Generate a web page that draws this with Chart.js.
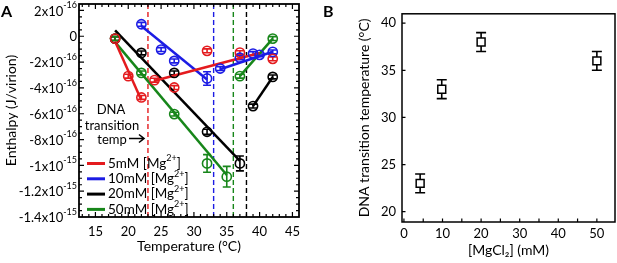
<!DOCTYPE html>
<html>
<head>
<meta charset="utf-8">
<script src="https://cdn.jsdelivr.net/npm/chart.js@4.4.1/dist/chart.umd.min.js"></script>
<style>
  html, body { margin: 0; padding: 0; background: #fff; }
  #wrap { position: relative; width: 617px; height: 263px; overflow: hidden; }
  canvas { position: absolute; top: 0; }
  #chartA { left: 0; }
  #chartB { left: 308px; }
</style>
</head>
<body>
<div id="wrap">
  <canvas id="chartA" width="308" height="263"></canvas>
  <canvas id="chartB" width="309" height="263"></canvas>
</div>
<script>
// ── Panel A data: enthalpy in units of 1e-16 J/virion ───────
const temps5  = [18, 20, 22, 24, 27, 32, 37, 42];
const enth5   = [-0.18, -3.09, -4.74, -3.40, -3.97, -1.13, -1.27, -1.75];
const err5    = [0.15, 0.15, 0.15, 0.15, 0.15, 0.15, 0.15, 0.15];

const temps10 = [22, 25, 27, 32, 34, 37, 39, 40, 42];
const enth10  = [0.93, -1.03, -1.91, -3.27, -2.50, -1.66, -1.34, -1.44, -1.21];
const err10   = [0.15, 0.15, 0.15, 0.52, 0.15, 0.15, 0.15, 0.15, 0.15];

const temps20 = [18, 22, 27, 32, 37, 39, 42];
const enth20  = [-0.18, -1.29, -2.84, -7.40, -9.85, -5.41, -3.15];
const err20   = [0.15, 0.15, 0.15, 0.2, 0.58, 0.15, 0.15];

const temps50 = [18, 22, 27, 32, 35, 37, 42];
const enth50  = [-0.18, -2.84, -6.03, -9.85, -10.88, -3.09, -0.18];
const err50   = [0.15, 0.15, 0.15, 0.68, 0.8, 0.15, 0.15];

// linear fit segments: [x0, x1, y0, y1]
const fit5  = [[18, 22, -0.4, -4.95], [24, 40, -3.45, -1.3]];
const fit10 = [[22, 32, 0.8, -3.35], [34, 42, -2.55, -1.2]];
const fit20 = [[18, 37, 0.45, -9.65], [39, 42, -5.41, -3.15]];
const fit50 = [[18, 35, -0.45, -10.75], [37, 42, -3.09, -0.18]];

const seriesNames  = ['5mM', '10mM', '20mM', '50mM'];
const seriesColors = ['#e41b1e', '#1c1ce4', '#000000', '#17861a'];
const transitionTemps = [23, 33, 38, 36];

const xTicksA = [15, 20, 25, 30, 35, 40, 45];
const yTicksA = [2, 0, -2, -4, -6, -8, -10, -12, -14];
const yTickLabelsA = [
  ['2x10', '-16'], ['0', ''], ['-2x10', '-16'], ['-4x10', '-16'], ['-6x10', '-16'],
  ['-8x10', '-16'], ['-1x10', '-15'], ['-1.2x10', '-15'], ['-1.4x10', '-15']
];

// ── Panel B data ────────────────────────────────────────────
const mgConc    = [4.2, 9.8, 20, 50];
const transTemp = [23, 33, 38, 36];
const transErr  = [1, 1, 1, 1];
const xTicksB = [0, 10, 20, 30, 40, 50];
const yTicksB = [20, 25, 30, 35, 40];

const FONT = 'Lato, "Open Sans", sans-serif';

const pts = (xs, ys) => xs.map((x, i) => ({ x, y: ys[i] }));
const setTicks = vals => scale => { scale.ticks = vals.map(v => ({ value: v })); };

// ── Error bars (drawn under the markers) ────────────────────
const errorBars = {
  id: 'errorBars',
  beforeDatasetsDraw(chart) {
    const { ctx } = chart;
    const ys = chart.scales.y;
    chart.data.datasets.forEach((ds, i) => {
      if (!ds.errors) return;
      const meta = chart.getDatasetMeta(i);
      const w = ds.capWidth / 2;
      ctx.save();
      ctx.strokeStyle = ds.borderColor;
      ctx.lineWidth = 1.6;
      ctx.beginPath();
      meta.data.forEach((pt, j) => {
        const v = ds.data[j].y, e = ds.errors[j];
        const top = ys.getPixelForValue(v + e);
        const bot = ys.getPixelForValue(v - e);
        ctx.moveTo(pt.x, top); ctx.lineTo(pt.x, bot);
        ctx.moveTo(pt.x - w, top); ctx.lineTo(pt.x + w, top);
        ctx.moveTo(pt.x - w, bot); ctx.lineTo(pt.x + w, bot);
      });
      ctx.stroke();
      ctx.restore();
    });
  }
};

// ── Frame and inward tick marks ─────────────────────────────
function drawFrame(chart, o) {
  const { ctx, chartArea: a, scales: { x, y } } = chart;
  ctx.save();
  ctx.strokeStyle = '#000';
  ctx.lineWidth = o.frameWidth;
  ctx.strokeRect(a.left, a.top, a.right - a.left, a.bottom - a.top);
  ctx.lineWidth = 1.2;
  ctx.beginPath();
  for (let v = o.xFrom; v <= o.xTo + 1e-9; v += o.xMinor) {
    const px = x.getPixelForValue(v);
    if (px <= a.left + 1 || px >= a.right - 1) continue;
    const len = Math.abs(v / o.xMajor - Math.round(v / o.xMajor)) < 1e-6 ? o.majorLen : o.minorLen;
    ctx.moveTo(px, a.bottom); ctx.lineTo(px, a.bottom - len);
    if (o.mirror) { ctx.moveTo(px, a.top); ctx.lineTo(px, a.top + len); }
  }
  for (let v = o.yFrom; v <= o.yTo + 1e-9; v += o.yMinor) {
    const py = y.getPixelForValue(v);
    if (py <= a.top + 1 || py >= a.bottom - 1) continue;
    const len = Math.abs(v / o.yMajor - Math.round(v / o.yMajor)) < 1e-6 ? o.majorLen : o.minorLen;
    ctx.moveTo(a.left, py); ctx.lineTo(a.left + len, py);
    if (o.mirror) { ctx.moveTo(a.right, py); ctx.lineTo(a.right - len, py); }
  }
  ctx.stroke();
  ctx.restore();
}

function textWithScript(ctx, x, y, base, script, size, raise, align) {
  ctx.font = size + 'px ' + FONT;
  const bw = ctx.measureText(base).width;
  ctx.font = Math.round(size * 0.68) + 'px ' + FONT;
  const sw = script ? ctx.measureText(script).width : 0;
  let left = align === 'right' ? x - bw - sw : x;
  ctx.textAlign = 'left';
  ctx.font = size + 'px ' + FONT;
  ctx.fillText(base, left, y);
  if (script) {
    ctx.font = Math.round(size * 0.68) + 'px ' + FONT;
    ctx.fillText(script, left + bw, y + raise);
  }
  return left + bw + sw;
}

const decorA = {
  id: 'decorA',
  afterDraw(chart) {
    const { ctx, scales: { y } } = chart;
    drawFrame(chart, {
      frameWidth: 1.8, mirror: true, majorLen: 5, minorLen: 3,
      xFrom: 13, xTo: 46, xMinor: 1, xMajor: 5,
      yFrom: -14, yTo: 2.5, yMinor: 0.5, yMajor: 2
    });
    ctx.save();
    ctx.fillStyle = '#000';
    ctx.textBaseline = 'middle';
    // y tick labels with exponents
    yTicksA.forEach((v, i) => {
      const py = y.getPixelForValue(v);
      const [base, exp] = yTickLabelsA[i];
      textWithScript(ctx, 77, py + 1, base, exp, 13, -6, 'right');
    });
    // legend
    seriesNames.forEach((name, i) => {
      const ly = 163.5 + i * 15.3;
      ctx.strokeStyle = seriesColors[i];
      ctx.lineWidth = 3;
      ctx.beginPath(); ctx.moveTo(87, ly); ctx.lineTo(105, ly); ctx.stroke();
      let xx = textWithScript(ctx, 108, ly, name + ' [Mg', '2+', 13.5, -5, 'left');
      ctx.font = '13.5px ' + FONT;
      ctx.fillText(']', xx, ly);
    });
    // annotation
    ctx.font = '13px ' + FONT;
    ctx.textAlign = 'center';
    ctx.fillText('DNA', 111, 110);
    ctx.fillText('transition', 112, 125.5);
    ctx.fillText('temp', 112, 140);
    ctx.strokeStyle = '#000';
    ctx.lineWidth = 1.6;
    ctx.beginPath();
    ctx.moveTo(129, 138.5); ctx.lineTo(144, 138.5);
    ctx.moveTo(139, 134.5); ctx.lineTo(144, 138.5); ctx.lineTo(139, 142.5);
    ctx.stroke();
    // panel letter
    ctx.font = 'bold 16px ' + FONT;
    ctx.textAlign = 'left';
    ctx.fillText('A', 1, 12);
    ctx.restore();
  }
};

const decorB = {
  id: 'decorB',
  afterDraw(chart) {
    const { ctx } = chart;
    drawFrame(chart, {
      frameWidth: 1.5, mirror: false, majorLen: 3.5, minorLen: 3.5,
      xFrom: 0, xTo: 54, xMinor: 5, xMajor: 10,
      yFrom: 20, yTo: 40, yMinor: 5, yMajor: 5
    });
    ctx.save();
    ctx.fillStyle = '#000';
    ctx.font = 'bold 16px ' + FONT;
    ctx.textBaseline = 'middle';
    ctx.fillText('B', 15, 12);
    ctx.restore();
  }
};

// ── Panel A ─────────────────────────────────────────────────
const groups = [
  { t: temps5,  e: enth5,  err: err5,  fits: fit5 },
  { t: temps10, e: enth10, err: err10, fits: fit10 },
  { t: temps20, e: enth20, err: err20, fits: fit20 },
  { t: temps50, e: enth50, err: err50, fits: fit50 }
];

const datasetsA = [];
groups.forEach((g, i) => {
  datasetsA.push({
    data: pts(g.t, g.e),
    errors: g.err,
    capWidth: 8,
    borderColor: seriesColors[i],
    backgroundColor: 'transparent',
    pointRadius: 4.6,
    pointBorderWidth: 1.6,
    showLine: false
  });
});
groups.forEach((g, i) => {
  g.fits.forEach(f => {
    datasetsA.push({
      data: [{ x: f[0], y: f[2] }, { x: f[1], y: f[3] }],
      borderColor: seriesColors[i],
      borderWidth: 2.5,
      pointRadius: 0,
      showLine: true
    });
  });
});
transitionTemps.forEach((t, i) => {
  datasetsA.push({
    data: [{ x: t, y: -14 }, { x: t, y: 2.5 }],
    borderColor: seriesColors[i],
    borderWidth: 1.4,
    borderDash: [5, 3],
    pointRadius: 0,
    showLine: true
  });
});

new Chart(document.getElementById('chartA'), {
  type: 'scatter',
  data: { datasets: datasetsA },
  options: {
    responsive: false,
    animation: false,
    devicePixelRatio: 1,
    layout: { padding: { top: 4, right: 9, left: 0, bottom: 0 }, autoPadding: false },
    plugins: { legend: { display: false }, tooltip: { enabled: false } },
    scales: {
      x: {
        type: 'linear', min: 12.5, max: 46,
        afterBuildTicks: setTicks(xTicksA),
        afterFit: s => { s.height = 46; },
        grid: { display: false, drawTicks: false },
        border: { display: false },
        ticks: { color: '#000', font: { family: FONT, size: 13 }, padding: 7, maxRotation: 0 },
        title: { display: true, text: 'Temperature (°C)', color: '#000',
                 font: { family: FONT, size: 14 }, padding: { top: 0, bottom: 8 } }
      },
      y: {
        type: 'linear', min: -14, max: 2.5,
        afterBuildTicks: setTicks(yTicksA),
        afterFit: s => { s.width = 79; },
        grid: { display: false, drawTicks: false },
        border: { display: false },
        ticks: { display: false },
        title: { display: true, text: 'Enthalpy (J/virion)', color: '#000',
                 font: { family: FONT, size: 14 }, padding: { top: 3, bottom: 0 } }
      }
    }
  },
  plugins: [errorBars, decorA]
});

// ── Panel B ─────────────────────────────────────────────────
new Chart(document.getElementById('chartB'), {
  type: 'scatter',
  data: {
    datasets: [{
      data: pts(mgConc, transTemp),
      errors: transErr,
      capWidth: 10,
      borderColor: '#000',
      backgroundColor: '#fff',
      pointStyle: 'rect',
      pointRadius: 5.6,
      pointBorderWidth: 1.5
    }]
  },
  options: {
    responsive: false,
    animation: false,
    devicePixelRatio: 1,
    layout: { padding: { top: 3, right: 2, left: 0, bottom: 0 }, autoPadding: false },
    plugins: { legend: { display: false }, tooltip: { enabled: false } },
    scales: {
      x: {
        type: 'linear', min: -0.5, max: 54.7,
        afterBuildTicks: setTicks(xTicksB),
        afterFit: s => { s.height = 41; },
        grid: { display: false, drawTicks: false },
        border: { display: false },
        ticks: { color: '#000', font: { family: FONT, size: 13 }, padding: 4, maxRotation: 0 },
        title: { display: true, text: '[MgCl₂] (mM)', color: '#000',
                 font: { family: FONT, size: 14 }, padding: { top: 0, bottom: 4 } }
      },
      y: {
        type: 'linear', min: 18.9, max: 41,
        afterBuildTicks: setTicks(yTicksB),
        afterFit: s => { s.width = 94; },
        grid: { display: false, drawTicks: false },
        border: { display: false },
        ticks: { color: '#000', font: { family: FONT, size: 13 }, padding: 6 },
        title: { display: true, text: 'DNA transition temperature (°C)', color: '#000',
                 font: { family: FONT, size: 14 }, padding: { top: 48, bottom: 0 } }
      }
    }
  },
  plugins: [errorBars, decorB]
});
</script>
</body>
</html>
